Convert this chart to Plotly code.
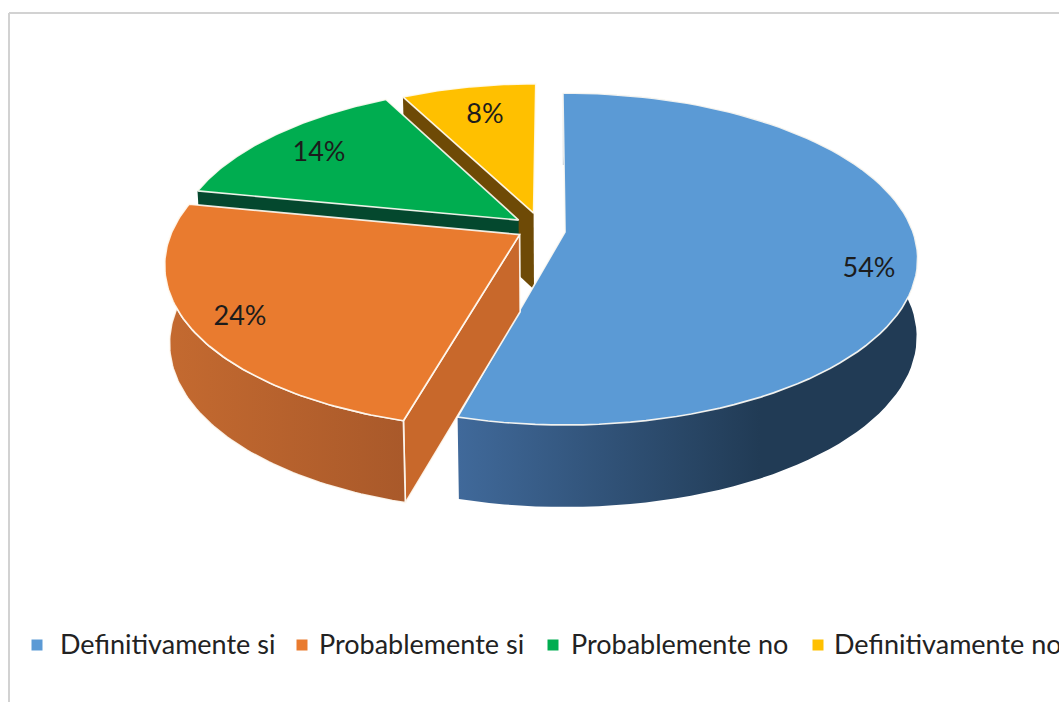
import numpy as np
import plotly.graph_objects as go

categories = ["Definitivamente si", "Probablemente si", "Probablemente no", "Definitivamente no"]
values = [54.3, 23.9, 14.2, 7.6]

top_colors = ["#5B9AD5", "#E97B2F", "#00AD50", "#FFC000"]
wall_left = ["#40699A", "#C46A30", "#04482E", "#6E4A06"]
wall_right = ["#213B55", "#A9592A", "#04482E", "#6E4A06"]
radial_walls = [None, "#C8682B", "#04482E", "#6E4A06"]
# disk-plane explosion offset and radius of each slice
off_u = [0.0, -0.13, -0.135, -0.092]
off_v = [0.0, -0.016, 0.075, 0.119]
radius = [1.0, 1.0, 0.985, 0.96]

X0, Y0, A, B, K = 565.0, 232.0, 348.0, 161.6, 0.1627
START_DEG = -0.4
legend_marker_x = [37, 302, 553, 818]
legend_text_x = [58, 317, 569, 832]
LEGEND_Y = 645
data_label_pos = [(869, 270), (240, 318), (319, 154), (485, 116)]


def project(u, v):
    s = 1.0 / (1.0 + K * v)
    return X0 + A * u * s, Y0 - B * v * s


def lower(u, v):
    x, y = project(u, v)
    shrink = np.where(np.asarray(x) < X0, 0.988, 0.997)
    return X0 + (x - X0) * shrink, y + 77 - 5 * v


fig = go.Figure()


def add_poly(xs, ys, color, line=True, gradient=None):
    kw = {}
    if gradient:
        kw["fillgradient"] = dict(type="horizontal", colorscale=[[0, gradient[0]], [1, gradient[1]]],
                                  start=gradient[2], stop=gradient[3])
    else:
        kw["fillcolor"] = color
    fig.add_trace(go.Scatter(
        x=list(xs) + [xs[0]], y=list(ys) + [ys[0]], mode="lines", fill="toself",
        line=dict(color="rgba(255,252,245,0.9)" if line else "rgba(0,0,0,0)", width=1.7 if line else 0),
        hoverinfo="skip", showlegend=False, **kw))


total = sum(values)
edges = np.cumsum([0] + values) / total * 360 + START_DEG
slices = []
for i in range(len(values)):
    th = np.radians(np.linspace(edges[i], edges[i + 1], 90))
    u = off_u[i] + radius[i] * np.sin(th)
    v = off_v[i] + radius[i] * np.cos(th)
    slices.append((i, u, v))

# back-to-front painting order
for i in [3, 2, 0, 1]:
    _, u, v = slices[i]
    cu, cv = off_u[i], off_v[i]
    ax, ay = project(cu, cv)
    axb, ayb = lower(cu, cv)
    axb, ayb = float(axb), float(ayb)
    tx, ty = project(u, v)
    bx, by = lower(u, v)
    if i in (2, 3):  # wall on the left radial edge
        add_poly([tx[0], ax, axb, bx[0]], [ty[0], ay, ayb, by[0]], radial_walls[i], line=False)
    if i == 0:
        xs = list(tx) + list(bx[::-1])
        ys = list(ty) + list(by[::-1])
        add_poly(xs, ys, None, line=False, gradient=(wall_left[i], wall_right[i], 458, 760))
    if i == 1:
        add_poly([tx[0], ax, axb, bx[0]], [ty[0], ay, ayb, by[0]], radial_walls[i], line=True)
        xs = list(tx) + list(bx[::-1])
        ys = list(ty) + list(by[::-1])
        add_poly(xs, ys, None, line=True, gradient=(wall_left[i], wall_right[i], 165, 405))
    add_poly(list(tx) + [ax], list(ty) + [ay], top_colors[i], line=True)

# data labels
fig.add_trace(go.Scatter(
    x=[p[0] for p in data_label_pos], y=[p[1] for p in data_label_pos], mode="text",
    text=[f"{round(val / total * 100)}%" for val in values],
    textfont=dict(family="Lato", size=27, color="#1c1c1c"),
    hoverinfo="skip", showlegend=False))

# legend row
fig.add_trace(go.Scatter(
    x=legend_marker_x, y=[LEGEND_Y] * 4, mode="markers",
    marker=dict(symbol="square", size=11, color=top_colors),
    hoverinfo="skip", showlegend=False))
for name, lx in zip(categories, legend_text_x):
    fig.add_annotation(x=lx, y=LEGEND_Y - 2, xref="x", yref="y", text=name, showarrow=False,
                       xanchor="left", yanchor="middle",
                       font=dict(family="Lato", size=27, color="#222222"))

fig.update_layout(
    width=1059, height=702, autosize=False,
    margin=dict(l=0, r=0, t=0, b=0),
    paper_bgcolor="white", plot_bgcolor="white",
    xaxis=dict(range=[0, 1059], visible=False, fixedrange=True),
    yaxis=dict(range=[702, 0], visible=False, fixedrange=True),
    showlegend=False,
    shapes=[dict(type="line", xref="x", yref="y", x0=9, x1=1059, y0=13, y1=13,
                 line=dict(color="#D2D2D2", width=2)),
            dict(type="line", xref="x", yref="y", x0=9, x1=9, y0=13, y1=702,
                 line=dict(color="#D2D2D2", width=2))],
)
fig.write_html("out.html", config={"displayModeBar": False},
               post_script="document.body.style.margin='0';document.body.style.overflow='hidden';")
